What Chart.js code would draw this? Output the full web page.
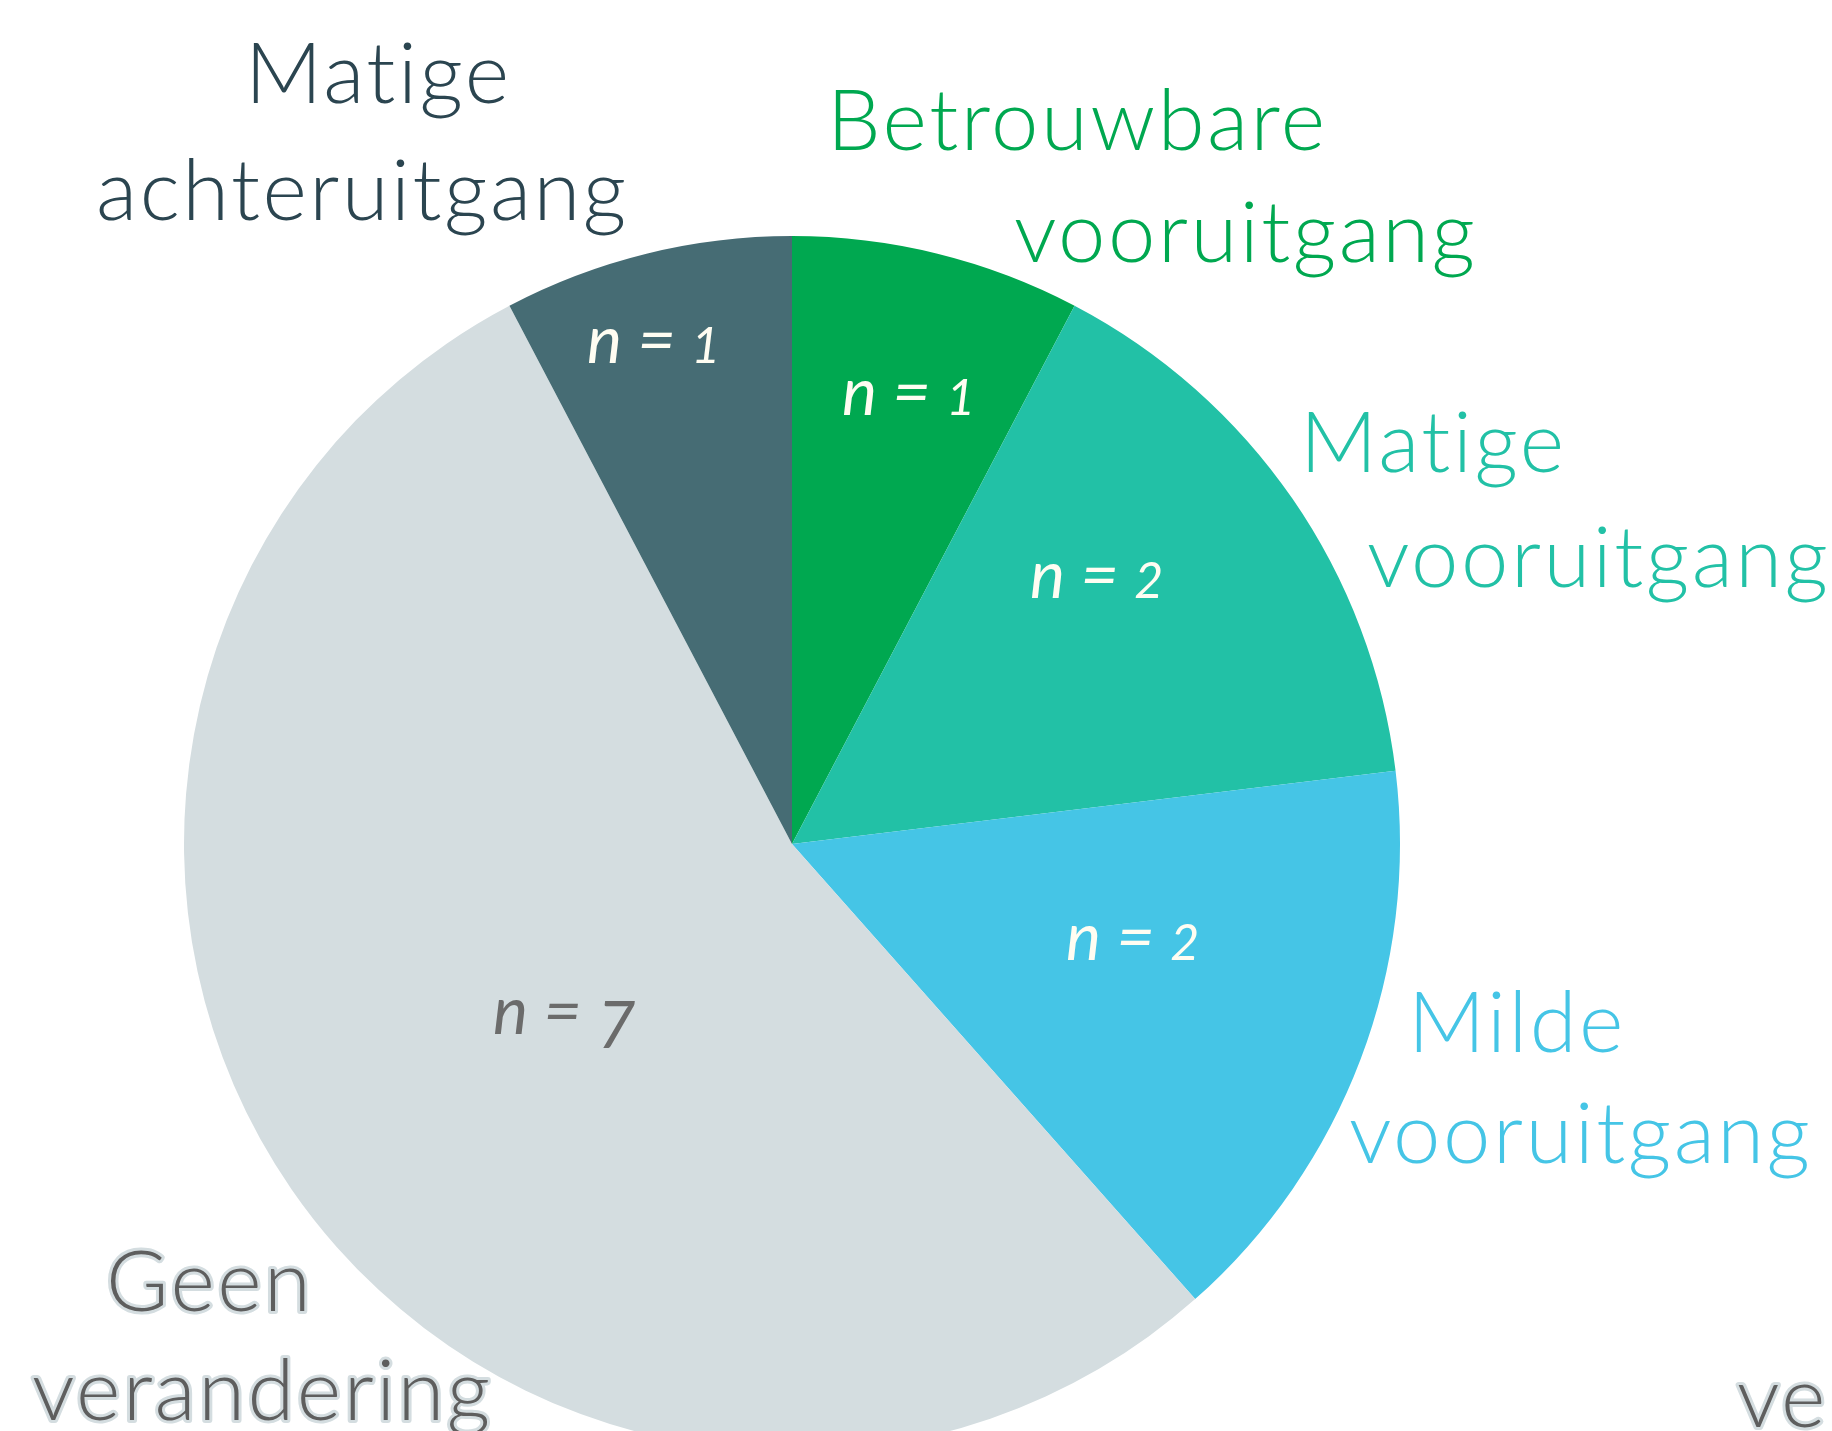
<!DOCTYPE html>
<html>
<head>
<meta charset="utf-8">
<script src="https://cdn.jsdelivr.net/npm/chart.js@4/dist/chart.umd.min.js"></script>
<style>
  html, body { margin: 0; padding: 0; background: #ffffff; overflow: hidden; width: 1832px; height: 1431px; }
  #wrap { position: absolute; left: 0; top: 0; width: 1832px; height: 1700px; }
  canvas { font-variant-ligatures: none; }
</style>
</head>
<body>
<div id="wrap"><canvas id="c" width="1832" height="1700"></canvas></div>
<script>
// ---- data ----
const categories = ['Betrouwbare vooruitgang', 'Matige vooruitgang', 'Milde vooruitgang', 'Geen verandering', 'Matige achteruitgang'];
const counts = [1, 2, 2, 7, 1];

// ---- styles ----
const sliceColors = ['#00A850', '#22C1A6', '#45C5E6', '#D4DDE0', '#466C74'];
const labelColors = ['#00A850', '#22C1A6', '#45C5E6', '#5E5E5E', '#2B4550'];
const countColors = ['#FFFDF2', '#FFFDF2', '#FFFDF2', '#6B6B6B', '#FFFDF2'];
const outlined = [false, false, false, true, false];

// label placement (offsets from pie centre, px): [left x, baseline y] per line
const labelPlacement = [
  [[35, -694], [222, -582]],
  [[508, -372], [575, -257]],
  [[616, 208], [557, 319]],
  [[-686, 467], [-760, 576]],
  [[-547, -741], [-696, -624]]
];
const countPlacement = [[50, -429], [238, -246], [274, 116], [-299, 190], [-205, -481]];

const OUTER_FONT = '300 85px Lato, "Open Sans", "Noto Sans", sans-serif';
const N_FONT = 'italic 400 66px Lato, "Open Sans", "Noto Sans", sans-serif';
const DIGIT_FONT = 'italic 400 50px Lato, "Open Sans", "Noto Sans", sans-serif';
const DIGIT7_FONT = 'italic 400 66px Lato, "Open Sans", "Noto Sans", sans-serif';

const labelPlugin = {
  id: 'pieLabels',
  afterDatasetsDraw(chart) {
    const ctx = chart.ctx;
    const arc = chart.getDatasetMeta(0).data[0];
    const cx = arc.x, cy = arc.y;
    ctx.save();
    ctx.textBaseline = 'alphabetic';
    ctx.textAlign = 'left';
    ctx.lineJoin = 'round';
    if ('textRendering' in ctx) ctx.textRendering = 'optimizeSpeed';
    if ('letterSpacing' in ctx) ctx.letterSpacing = '2.5px';
    // outer category labels
    categories.forEach((cat, i) => {
      const lines = cat.split(' ');
      ctx.font = OUTER_FONT;
      lines.forEach((ln, j) => {
        const p = labelPlacement[i][j];
        const x = cx + p[0], y = cy + p[1];
        if (outlined[i]) {
          ctx.strokeStyle = '#D4DDE0';
          ctx.lineWidth = 6;
          ctx.strokeText(ln, x, y);
        }
        ctx.fillStyle = labelColors[i];
        ctx.fillText(ln, x, y);
      });
    });
    // partially visible label at the lower right edge
    ctx.font = OUTER_FONT;
    ctx.strokeStyle = '#D4DDE0';
    ctx.lineWidth = 6;
    ctx.strokeText('verandering', cx + 945, cy + 583);
    ctx.fillStyle = '#5E5E5E';
    ctx.fillText('verandering', cx + 945, cy + 583);

    // count labels "n = k"
    if ('letterSpacing' in ctx) ctx.letterSpacing = '0px';
    counts.forEach((v, i) => {
      const p = countPlacement[i];
      let x = cx + p[0];
      const y = cy + p[1];
      ctx.fillStyle = countColors[i];
      ctx.font = N_FONT;
      const pre = 'n = ';
      ctx.fillText(pre, x, y);
      x += ctx.measureText(pre).width;
      const d = String(v);
      if (d === '7') {
        ctx.font = DIGIT7_FONT;
        ctx.fillText(d, x, y + 14);
      } else {
        ctx.font = DIGIT_FONT;
        ctx.fillText(d, x, y);
      }
    });
    ctx.restore();
  }
};

new Chart(document.getElementById('c'), {
  type: 'pie',
  data: {
    labels: categories,
    datasets: [{
      data: counts,
      backgroundColor: sliceColors,
      borderWidth: 0,
      hoverOffset: 0
    }]
  },
  options: {
    responsive: false,
    animation: false,
    devicePixelRatio: 1,
    radius: 608,
    layout: { padding: { left: 0, right: 248, top: 0, bottom: 12 } },
    plugins: {
      legend: { display: false },
      tooltip: { enabled: false },
      title: { display: false }
    }
  },
  plugins: [labelPlugin]
});
</script>
</body>
</html>
